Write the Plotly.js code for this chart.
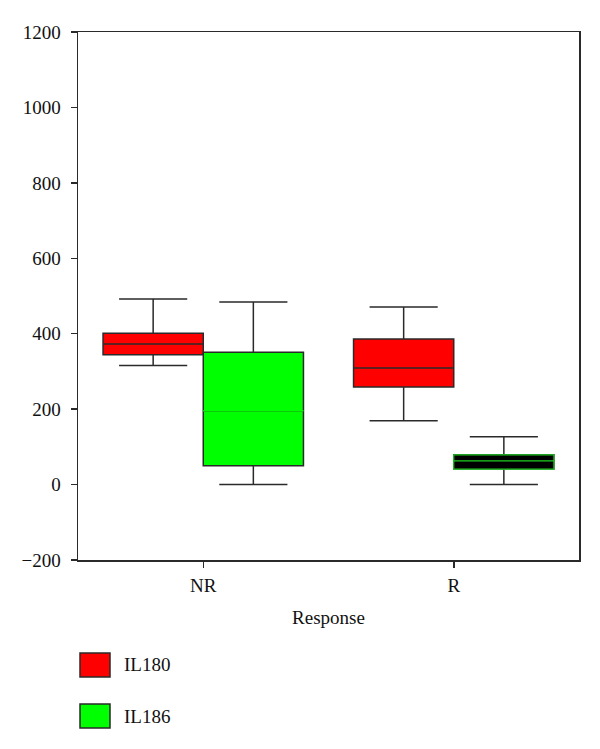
<!DOCTYPE html>
<html>
<head>
<meta charset="utf-8">
<script src="https://cdn.plot.ly/plotly-3.0.1.min.js"></script>
<style>html,body{margin:0;padding:0;background:#fff;}#chart{width:600px;height:749px;}</style>
</head>
<body>
<div id="chart"></div>
<script>
// ---- data ----
const categories = ['NR', 'R'];
const seriesNames = ['IL180', 'IL186'];

const il180Lower  = [316, 169];
const il180Q1     = [344, 259];
const il180Median = [373, 309];
const il180Q3     = [401, 386];
const il180Upper  = [492, 471];

const il186Lower  = [0, 0];
const il186Q1     = [50, 41];
const il186Median = [196, 63];
const il186Q3     = [351, 79];
const il186Upper  = [484, 127];

const yTickVals = [-200, 0, 200, 400, 600, 800, 1000, 1200];

// ---- styling ----
const RED = '#ff0000', GREEN = '#00ff00', DARK = '#2a2a2a';
const FONT = 'Liberation Serif, DejaVu Serif, serif';
const FS = 19;

const traces = [
  { type: 'box', name: seriesNames[0], x: categories, offsetgroup: 'a',
    q1: il180Q1, median: il180Median, q3: il180Q3, lowerfence: il180Lower, upperfence: il180Upper,
    fillcolor: RED, line: { color: DARK, width: 1.5 }, whiskerwidth: 0.68, showlegend: false, hoverinfo: 'skip' },
  { type: 'box', name: seriesNames[1], x: categories, offsetgroup: 'b',
    q1: il186Q1, median: il186Median, q3: il186Q3, lowerfence: il186Lower, upperfence: il186Upper,
    fillcolor: GREEN, line: { color: DARK, width: 1.5 }, whiskerwidth: 0.68, showlegend: false, hoverinfo: 'skip' },
  // green median on the NR IL186 box
  { type: 'box', name: seriesNames[1] + ' median', x: [categories[0]], offsetgroup: 'b',
    q1: [il186Median[0]], median: [il186Median[0]], q3: [il186Median[0]],
    lowerfence: [il186Median[0]], upperfence: [il186Median[0]],
    fillcolor: GREEN, line: { color: GREEN, width: 1.5 }, whiskerwidth: 0, showlegend: false, hoverinfo: 'skip' },
  // R IL186 box drawn black with green edges and median
  { type: 'box', name: seriesNames[1] + ' R', x: [categories[1]], offsetgroup: 'b',
    q1: [il186Q1[1]], median: [il186Median[1]], q3: [il186Q3[1]],
    lowerfence: [il186Q1[1]], upperfence: [il186Q3[1]],
    fillcolor: '#000000', line: { color: '#22cc22', width: 1.2 }, whiskerwidth: 0, showlegend: false, hoverinfo: 'skip' }
];

// custom legend (swatches + labels) below the plot
const L = 78, R = 579, T = 32, B = 560;
const px2x = p => (p - L) / (R - L);
const px2y = p => (B - p) / (B - T);
const legendColors = [RED, GREEN];
const legendRows = [665, 716];
const shapes = [], annotations = [];
seriesNames.forEach((nm, i) => {
  const cy = legendRows[i];
  shapes.push({ type: 'rect', xref: 'paper', yref: 'paper',
    x0: px2x(80), x1: px2x(110), y0: px2y(cy - 12), y1: px2y(cy + 12),
    fillcolor: legendColors[i], line: { color: DARK, width: 1.5 } });
  annotations.push({ xref: 'paper', yref: 'paper', x: px2x(122), y: px2y(cy),
    xanchor: 'left', yanchor: 'middle', text: nm, showarrow: false,
    font: { family: FONT, size: FS, color: '#111' } });
});

const layout = {
  width: 600, height: 749,
  margin: { l: L, r: 600 - R, t: T, b: 749 - B },
  paper_bgcolor: '#fff', plot_bgcolor: '#fff',
  font: { family: FONT, size: FS, color: '#111' },
  boxmode: 'group', boxgap: 0.2, boxgroupgap: 0,
  showlegend: false,
  xaxis: {
    type: 'category', categoryarray: categories, range: [-0.5, 1.5],
    showline: true, mirror: true, linecolor: DARK, linewidth: 1.5,
    ticks: 'outside', ticklen: 6, tickcolor: DARK, tickwidth: 1.5,
    showgrid: false, zeroline: false, ticklabelstandoff: 2,
    title: { text: 'Response', standoff: 15, font: { family: FONT, size: FS } }
  },
  yaxis: {
    range: [-200, 1200], tickvals: yTickVals,
    showline: true, mirror: true, linecolor: DARK, linewidth: 1.5,
    ticks: 'outside', ticklen: 6, tickcolor: DARK, tickwidth: 1.5,
    showgrid: false, zeroline: false, ticklabelstandoff: 6
  },
  shapes: shapes,
  annotations: annotations
};

Plotly.newPlot('chart', traces, layout, { displayModeBar: false, staticPlot: true });
</script>
</body>
</html>
